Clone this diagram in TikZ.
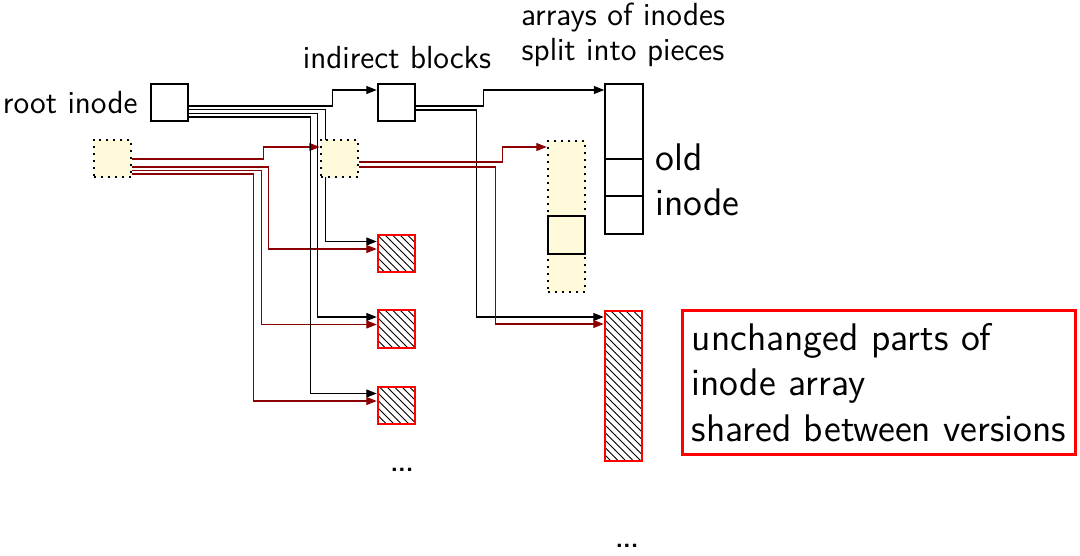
\documentclass[tikz,border=0pt]{standalone}
\usepackage{tikz}
\usetikzlibrary{calc,patterns,arrows.meta}
\tikzset{every picture/.append style={font=\sffamily\fontsize{12.8}{14}\selectfont}}
\definecolor{figpale}{HTML}{FFFAD9}
\definecolor{figred}{HTML}{FF0000}
\definecolor{figwine}{HTML}{8B0000}
\pgfdeclarelayer{wires}
\pgfsetlayers{wires,main}
\tikzset{
  cell/.style={draw=black,thick,minimum width=15pt,minimum height=15pt,inner sep=0pt},
  newcell/.style={cell,fill=figpale,dotted,thick},
  sharedcell/.style={cell,draw=figred,thick,pattern=north west lines},
  blk/.style={draw=black,line width=0.5pt,-{Triangle[length=4.2pt,width=3.2pt]}},
  wine/.style={draw=figwine,line width=0.5pt,-{Triangle[length=4.2pt,width=3.2pt]}},
  bigtxt/.style={font=\sffamily\fontsize{15.4}{18.2}\selectfont},
  dotstxt/.style={font=\sffamily\bfseries\fontsize{10}{12}\selectfont}
}
\begin{document}
\begin{tikzpicture}[x=0.4pt,y=-0.4pt]
    \useasboundingbox (0,0) rectangle (1080,555);
    % inodes and indirect blocks
    \node[cell] (root) at (169.5,102.5) {};
    \node[anchor=east,inner sep=0pt] (rootlab) at (138,103) {root inode};
    \node[newcell] (newroot) at (112.5,158.5) {};
    \node[cell] (ind) at (396.5,102.5) {};
    \node[anchor=south,inner sep=0pt] (indlab) at (397,69) {indirect blocks};
    \node[newcell] (newind) at (339.5,158.5) {};
    \foreach \k/\y in {1/253.5,2/329,3/405.5}
      \node[sharedcell] (h\k) at (396.5,\y) {};
    \node[dotstxt] (dotsa) at (402,470) {...};
    % arrays of inodes
    \node[align=center,inner sep=0pt] (arrlab) at (623,34.5) {arrays of inodes\\split into pieces};
    \node[cell,minimum height=60.2pt] (oldarr) at (624,159) {};
    \node[cell] (oldslot) at (624,177.5) {};
    \node[bigtxt,anchor=west,align=left,inner sep=0pt] (oldlab) at (655,180) {old\\inode};
    \node[newcell,minimum height=60.2pt] (newarr) at (566.5,216.5) {};
    \node[cell,fill=figpale] (newslot) at (566.5,235) {};
    \node[sharedcell,minimum height=60.2pt] (harr) at (623.5,386) {};
    \node[dotstxt] (dotsb) at (627,546) {...};
    \node[bigtxt,draw=figred,line width=1.2pt,align=left,minimum width=157pt,minimum height=57.5pt] (note) at (879,382.5)
      {unchanged parts of\\inode array\\shared between versions};
    % pointers
    \begin{pgfonlayer}{wires}
    \draw[blk] ($(root.east)+(0,3.5)$) -| ($(ind.west)+(-44,-12.5)$) -- ($(ind.west)+(0,-12.5)$);
    \draw[wine] ($(newroot.east)+(0,0.5)$) -| ($(newind.west)+(-56,-11.5)$) -- ($(newind.west)+(0,-11.5)$);
    \foreach \k/\ro/\bx/\no/\rx in {1/7.2/326/8.5/269, 2/10.9/318/12/262, 3/14.6/311/15.5/254} {
      \draw[blk] ($(root.east)+(0,\ro)$) -| ($(h\k.west)+(\bx-377,-12)$) -- ($(h\k.west)+(0,-12)$);
      \draw[wine] ($(newroot.east)+(0,\no)$) -| ($(h\k.west)+(\rx-377,-4.5)$) -- ($(h\k.west)+(0,-4.5)$);
    }
    \draw[blk] ($(ind.east)+(0,3.5)$) -| ($(oldarr.west)+(-121,-69)$) -- ($(oldarr.west)+(0,-69)$);
    \draw[blk] ($(ind.east)+(0,7.5)$) -| ($(harr.west)+(-127,-69)$) -- ($(harr.west)+(0,-69)$);
    \draw[wine] ($(newind.east)+(0,3.5)$) -| ($(newarr.west)+(-44,-69.5)$) -- ($(newarr.west)+(0,-69.5)$);
    \draw[wine] ($(newind.east)+(0,8.5)$) -| ($(harr.west)+(-108,-62)$) -- ($(harr.west)+(0,-62)$);
    \end{pgfonlayer}
\end{tikzpicture}
\end{document}
